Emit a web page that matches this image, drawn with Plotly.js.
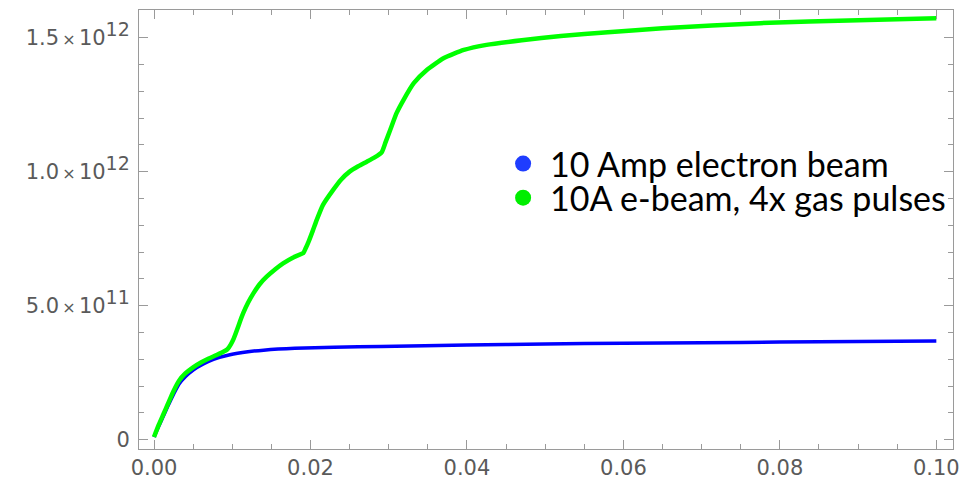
<!DOCTYPE html>
<html>
<head>
<meta charset="utf-8">
<script src="https://cdn.plot.ly/plotly-3.0.1.min.js"></script>
<style>html,body{margin:0;padding:0;background:#fff;}#chart{width:976px;height:480px;}</style>
</head>
<body>
<div id="chart"></div>
<script>
// Blue: 10 Amp electron beam
const tBlue = [0, 0.0006, 0.0012, 0.0018, 0.0025, 0.0032, 0.004, 0.005, 0.0063, 0.0076, 0.0097, 0.012, 0.014, 0.018, 0.023, 0.029, 0.04, 0.05, 0.06, 0.07, 0.08, 0.09, 0.1];
const nBlue = [1.0e10, 5.0e10, 8.8e10, 1.27e11, 1.7e11, 2.08e11, 2.35e11, 2.6e11, 2.83e11, 3.0e11, 3.17e11, 3.28e11, 3.34e11, 3.41e11, 3.45e11, 3.48e11, 3.53e11, 3.57e11, 3.6e11, 3.62e11, 3.64e11, 3.66e11, 3.68e11];

// Green: 10A e-beam, 4x gas pulses
const tGreen = [0, 0.0006, 0.0012, 0.0018, 0.0025, 0.0032, 0.004, 0.005, 0.006, 0.007, 0.008, 0.0091,
  0.0094, 0.0098, 0.0102, 0.0106, 0.011, 0.0114, 0.012, 0.0127, 0.0135, 0.0144, 0.0155, 0.0165, 0.0178, 0.0191,
  0.0194, 0.0198, 0.0203, 0.0208, 0.0216, 0.0229, 0.0239, 0.025, 0.0261, 0.0272, 0.0282, 0.0291,
  0.0296, 0.0302, 0.031, 0.0319, 0.0332, 0.0349, 0.037, 0.0396, 0.0425, 0.047, 0.052, 0.058, 0.065, 0.0775, 0.09, 0.1];
const nGreen = [1.0e10, 5.5e10, 9.5e10, 1.35e11, 1.82e11, 2.2e11, 2.47e11, 2.7e11, 2.88e11, 3.03e11, 3.16e11, 3.32e11,
  3.38e11, 3.55e11, 3.78e11, 4.09e11, 4.42e11, 4.72e11, 5.1e11, 5.46e11, 5.8e11, 6.08e11, 6.36e11, 6.58e11, 6.8e11, 6.97e11,
  7.15e11, 7.42e11, 7.8e11, 8.2e11, 8.76e11, 9.32e11, 9.7e11, 1.0e12, 1.02e12, 1.037e12, 1.053e12, 1.072e12,
  1.11e12, 1.156e12, 1.218e12, 1.268e12, 1.33e12, 1.38e12, 1.423e12, 1.454e12, 1.473e12, 1.49e12, 1.506e12, 1.52e12, 1.535e12, 1.554e12, 1.565e12, 1.572e12];

const seriesNames = ["10 Amp electron beam", "10A e-beam, 4x gas pulses"];

const xTickVals = [0, 0.02, 0.04, 0.06, 0.08, 0.1];
const xTickText = ["0.00", "0.02", "0.04", "0.06", "0.08", "0.10"];
const yTickVals = [0, 5e11, 1e12, 1.5e12];
const yMantissa = ["5.0", "1.0", "1.5"];
const yExponent = ["11", "12", "12"];
const yTickText = ["0"].concat(yMantissa.map((m, i) =>
  m + "<span style=\"font-size:16px\">\u2009\u00d7\u2009</span>10<sup><span style=\"font-size:19px\">" + yExponent[i] + "</span></sup>"));

const axisColor = "#9a9a9a";
const tickFont = {family: "DejaVu Sans, sans-serif", size: 21, color: "#5a5a5a"};
const legendFont = {family: "Lato, sans-serif", size: 34, color: "#000000"};

const traces = [
  {x: tBlue, y: nBlue, type: "scatter", mode: "lines", line: {color: "#0000ff", width: 3.5, shape: "spline", smoothing: 0.6}, showlegend: false, hoverinfo: "skip"},
  {x: tGreen, y: nGreen, type: "scatter", mode: "lines", line: {color: "#00ff00", width: 4.5, shape: "spline", smoothing: 0.5}, showlegend: false, hoverinfo: "skip"},
  {x: [null], y: [null], type: "scatter", mode: "markers", name: seriesNames[0], marker: {color: "#1f3dff", size: 18}, legend: "legend"},
  {x: [null], y: [null], type: "scatter", mode: "markers", name: seriesNames[1], marker: {color: "#00ee00", size: 18}, legend: "legend2"}
];

const common = {
  showline: true, linecolor: axisColor, linewidth: 1, mirror: "allticks",
  ticks: "inside", tickcolor: axisColor, tickwidth: 1, ticklen: 9,
  showgrid: false, zeroline: false, tickfont: tickFont, tickmode: "array"
};

const layout = {
  width: 976, height: 480,
  margin: {l: 139, r: 23, t: 10, b: 31, pad: 0},
  paper_bgcolor: "#ffffff", plot_bgcolor: "#ffffff",
  xaxis: Object.assign({}, common, {
    range: [-0.00192, 0.10213], tickvals: xTickVals, ticktext: xTickText,
    minor: {dtick: 0.005, tick0: 0, ticks: "inside", ticklen: 5, tickcolor: axisColor, showgrid: false}
  }),
  yaxis: Object.assign({}, common, {
    range: [-3.47e10, 1.603e12], tickvals: yTickVals, ticktext: yTickText, ticklabelstandoff: 4,
    minor: {dtick: 1e11, tick0: 0, ticks: "inside", ticklen: 5, tickcolor: axisColor, showgrid: false}
  }),
  legend: {x: 0.4387, y: 0.6493, xanchor: "left", yanchor: "middle", bgcolor: "rgba(0,0,0,0)", borderwidth: 0, font: legendFont, itemwidth: 44},
  legend2: {x: 0.4387, y: 0.5716, xanchor: "left", yanchor: "middle", bgcolor: "rgba(0,0,0,0)", borderwidth: 0, font: legendFont, itemwidth: 44}
};

Plotly.newPlot("chart", traces, layout, {staticPlot: true, displayModeBar: false});
</script>
</body>
</html>
